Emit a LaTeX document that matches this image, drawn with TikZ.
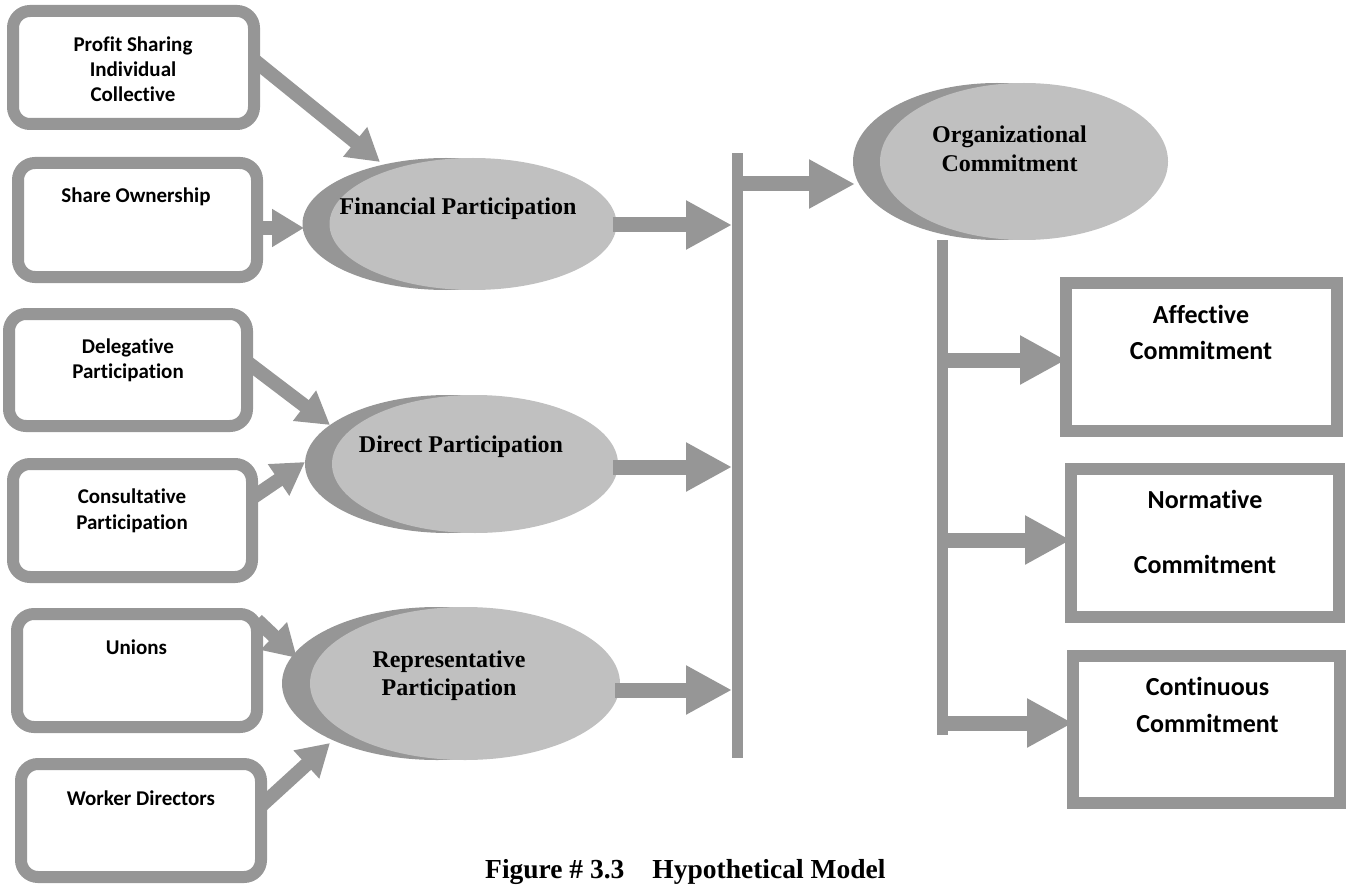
\documentclass[tikz,border=0pt]{standalone}
\usepackage{fontspec}
\setmainfont{Liberation Serif}
\newfontfamily\calfont[Ligatures={NoCommon}]{Carlito}
\usetikzlibrary{arrows.meta,shapes.geometric}
\definecolor{gc}{RGB}{150,150,150}
\definecolor{lg}{RGB}{192,192,192}
\begin{document}
\begin{tikzpicture}[x=1pt,y=-1pt,
  rbox/.style={draw=gc, line width=12pt, rounded corners=17pt, fill=white, inner sep=0pt, outer sep=0pt},
  sbox/.style={draw=gc, line width=12pt, fill=white, inner sep=0pt, outer sep=0pt},
  backell/.style={ellipse, fill=gc, inner sep=0pt, outer sep=0pt},
  frontell/.style={ellipse, fill=lg, inner sep=0pt, outer sep=0pt},
  barnode/.style={fill=gc, inner sep=0pt, outer sep=0pt, minimum width=11pt},
  ltxt/.style={font=\calfont\bfseries\fontsize{21}{25}\selectfont, anchor=base, inner sep=0pt},
  rtxt/.style={font=\calfont\bfseries\fontsize{26}{31}\selectfont, anchor=base, inner sep=0pt},
  etxt/.style={font=\bfseries\fontsize{24}{28}\selectfont, anchor=base, inner sep=0pt},
  sarrow/.style={draw=gc, line width=14pt, -{Triangle[length=32pt,width=36pt]}},
  barrow/.style={draw=gc, line width=15pt, -{Triangle[length=46pt,width=46pt]}},
]
\useasboundingbox (0,0) rectangle (1348,885);

% ---------- ellipses ----------
\node[backell, minimum width=287pt, minimum height=132pt] (finB) at (446,224) {};
\node[frontell, minimum width=287pt, minimum height=132pt] (fin) at (473,224) {};
\node[backell, minimum width=286pt, minimum height=138pt] (dirB) at (448,464) {};
\node[frontell, minimum width=286pt, minimum height=138pt] (dir) at (475,464) {};
\node[backell, minimum width=310pt, minimum height=153pt] (repB) at (437,683.5) {};
\node[frontell, minimum width=310pt, minimum height=153pt] (rep) at (465,683.5) {};
\node[backell, minimum width=288pt, minimum height=157pt] (orgB) at (997,161.5) {};
\node[frontell, minimum width=288pt, minimum height=157pt] (org) at (1024,161.5) {};

% ---------- left boxes ----------
\node[rbox, minimum width=241pt, minimum height=113pt] (psb) at (133.5,67.5) {};
\node[rbox, minimum width=239pt, minimum height=114pt] (sob) at (137.5,220) {};
\node[rbox, minimum width=238pt, minimum height=112pt] (dlb) at (128,370) {};
\node[rbox, minimum width=239pt, minimum height=113pt] (csb) at (132.5,520.5) {};
\node[rbox, minimum width=240pt, minimum height=113pt] (unb) at (137,670.5) {};
\node[rbox, minimum width=240pt, minimum height=113pt] (wdb) at (141,820.5) {};

% ---------- right boxes ----------
\node[sbox, minimum width=271pt, minimum height=148pt] (aff) at (1201.5,357) {};
\node[sbox, minimum width=268pt, minimum height=148pt] (nor) at (1205,543) {};
\node[sbox, minimum width=267pt, minimum height=147pt] (con) at (1206.5,729.5) {};

% ---------- bars ----------
\node[barnode, minimum height=605pt] (bar1) at (737.5,455.5) {};
\node[barnode, minimum height=495pt] (bar2) at (942.5,487.5) {};

% ---------- left arrows ----------
\coordinate (t1) at (380,162);
\coordinate (t2) at (304,228);
\coordinate (t3) at (330,425);
\coordinate (t4) at (305,462);
\coordinate (t5) at (297,658);
\coordinate (t6) at (330,743);
\draw[sarrow] (psb.east |- 0,60) -- (t1);
\draw[sarrow] (sob.east |- 0,228) -- (t2);
\draw[sarrow] (dlb.east |- 0,362) -- (t3);
\draw[sarrow] (csb.east |- 0,498) -- (t4);
\draw[sarrow] (unb.east |- 0,620) -- (t5);
\draw[sarrow] (wdb.east |- 0,806) -- (t6);

% ---------- ellipse -> bar ----------
\coordinate (fs) at ([xshift=-4pt,yshift=-1pt]fin.east);
\coordinate (ds) at ([xshift=-5pt,yshift=-3pt]dir.east);
\coordinate (rs) at ([xshift=-5pt,yshift=-6.5pt]rep.east);
\draw[barrow] (fs) -- (bar1.west |- fs);
\draw[barrow] (ds) -- (bar1.west |- ds);
\draw[barrow] (rs) -- (bar1.west |- rs);

% ---------- bar -> organizational ----------
\coordinate (os) at (bar1.east |- 0,184);
\coordinate (ot) at (855,184);
\draw[barrow] (os) -- (ot);

% ---------- bar2 -> right boxes ----------
\coordinate (a1) at (bar2.east |- 0,360);
\coordinate (a2) at (bar2.east |- 0,540);
\coordinate (a3) at (bar2.east |- 0,723);
\draw[barrow] (a1) -- (aff.west |- a1);
\draw[barrow] (a2) -- (nor.west |- a2);
\draw[barrow] (a3) -- (con.west |- a3);

% ---------- texts ----------
\node[ltxt] (tps1) at (133,52) {Profit Sharing};
\node[ltxt] (tps2) at (133,77) {Individual};
\node[ltxt] (tps3) at (133,102) {Collective};
\node[ltxt] (tso) at (136,203) {Share Ownership};
\node[ltxt] (tdl1) at (128,353) {Delegative};
\node[ltxt] (tdl2) at (128,378) {Participation};
\node[ltxt] (tcs1) at (132,503) {Consultative};
\node[ltxt] (tcs2) at (132,529) {Participation};
\node[ltxt] (tun) at (136.5,654) {Unions};
\node[ltxt] (twd) at (141,805) {Worker Directors};

\node[rtxt] (taf1) at (1201,323) {Affective};
\node[rtxt] (taf2) at (1201,359) {Commitment};
\node[rtxt] (tno1) at (1205,508) {Normative};
\node[rtxt] (tno2) at (1205,573) {Commitment};
\node[rtxt] (tco1) at (1207.5,695) {Continuous};
\node[rtxt] (tco2) at (1207.5,732) {Commitment};

\node[etxt] (tfin) at (458,215) {Financial Participation};
\node[etxt] (tdir) at (461,452) {Direct Participation};
\node[etxt] (trep1) at (449,667) {Representative};
\node[etxt] (trep2) at (449,695) {Participation};
\node[etxt] (torg1) at (1009.5,143) {Organizational};
\node[etxt] (torg2) at (1009.5,172) {Commitment};

\node[font=\bfseries\fontsize{27.5}{33}\selectfont, anchor=base west, inner sep=0pt] (cap) at (485,878) {Figure \# 3.3\hspace{28pt}Hypothetical Model};
\end{tikzpicture}
\end{document}
